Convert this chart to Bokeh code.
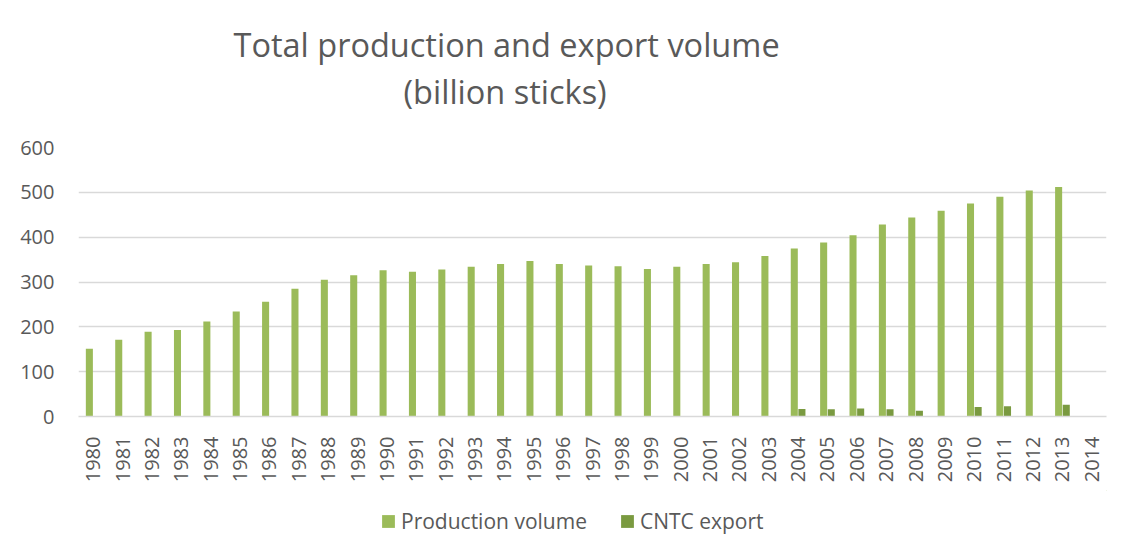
import math
from bokeh.plotting import figure
from bokeh.layouts import column
from bokeh.models import ColumnDataSource, FactorRange, Legend, LegendItem, FixedTicker, Title
from bokeh.transform import dodge
from bokeh.embed import file_html
from bokeh.resources import INLINE

years = [str(y) for y in range(1980, 2015)]
production = [151, 171, 189, 193, 212, 234, 256, 285, 305, 315,
              326, 323, 328, 334, 340, 347, 340, 337, 335, 329,
              334, 340, 344, 358, 375, 388, 404, 428, 444, 459,
              475, 490, 504, 512, None]
export = [None] * 24 + [17, 16, 18, 16, 13, None, 21, 23, None, 26, None]
y_ticks = [0, 100, 200, 300, 400, 500, 600]

title_line1 = "Total production and export volume"
title_line2 = "(billion sticks)"
series_names = ["Production volume", "CNTC export"]
colors = ["#9BBB59", "#7A9A40"]

def clean(v):
    return [float("nan") if x is None else x for x in v]

src = ColumnDataSource(dict(year=years, prod=clean(production), exp=clean(export)))

FONT = "Open Sans"
GREY = "#595959"

p = figure(width=1118, height=490, x_range=FactorRange(*years, range_padding=0),
           y_range=(0, 600), output_backend="svg", toolbar_location=None,
           min_border_left=78, min_border_right=12, min_border_top=147, min_border_bottom=74)
p.outline_line_color = None
p.background_fill_color = "white"
p.border_fill_color = "white"

r1 = p.vbar(x=dodge("year", -0.13, range=p.x_range), top="prod", width=0.24, source=src,
            fill_color=colors[0], line_color=None)
r2 = p.vbar(x=dodge("year", 0.13, range=p.x_range), top="exp", width=0.24, source=src,
            fill_color=colors[1], line_color=None)

p.xgrid.grid_line_color = None
p.ygrid.grid_line_color = "#d9d9d9"
p.ygrid.grid_line_width = 1.3
p.yaxis.ticker = FixedTicker(ticks=y_ticks)
p.yaxis.axis_line_color = None
p.yaxis.major_tick_line_color = None
p.yaxis.minor_tick_line_color = None
p.yaxis.major_label_text_font = FONT
p.yaxis.major_label_text_font_size = "20px"
p.yaxis.major_label_text_color = GREY
p.yaxis.major_label_standoff = 18

p.xaxis.axis_line_color = "#d9d9d9"
p.xaxis.axis_line_width = 1.5
p.xaxis.major_tick_line_color = None
p.xaxis.minor_tick_line_color = None
p.xaxis.major_label_orientation = math.pi / 2
p.xaxis.major_label_text_font = FONT
p.xaxis.major_label_text_font_size = "20px"
p.xaxis.major_label_text_color = GREY
p.xaxis.major_label_standoff = 14

# spacer above the frame, then the two title lines
p.add_layout(Title(text=" ", text_font_size="2px", standoff=30), "above")
p.add_layout(Title(text=title_line2, align="left", offset=325, standoff=0,
                   text_font=FONT, text_font_size="32.5px", text_font_style="normal",
                   text_color=GREY), "above")
p.add_layout(Title(text=title_line1, align="left", offset=155, standoff=0,
                   text_font=FONT, text_font_size="32.5px", text_font_style="normal",
                   text_color=GREY), "above")

# legend strip below the chart (its key glyphs sit outside the visible range)
lg = figure(width=1118, height=52, x_range=(0, 1), y_range=(0, 1), output_backend="svg",
            toolbar_location=None, x_axis_type=None, y_axis_type=None,
            min_border=0, min_border_left=0, min_border_right=0, min_border_top=0, min_border_bottom=0)
lg.outline_line_color = None
lg.xgrid.visible = False
lg.ygrid.visible = False
lr1 = lg.vbar(x=[5], top=[6], bottom=[5], width=0.1, fill_color=colors[0], line_color=None)
lr2 = lg.vbar(x=[5], top=[6], bottom=[5], width=0.1, fill_color=colors[1], line_color=None)
legend = Legend(items=[LegendItem(label=series_names[0], renderers=[lr1]),
                       LegendItem(label=series_names[1], renderers=[lr2])],
                orientation="horizontal", location=(302, 7),
                glyph_width=16, glyph_height=16, label_standoff=5, spacing=32,
                padding=0, margin=0, border_line_color=None, background_fill_alpha=0,
                label_text_font=FONT, label_text_font_size="21px", label_text_color=GREY)
lg.add_layout(legend, "center")

layout = column(p, lg, spacing=0)
open("out.html", "w").write(file_html(layout, INLINE))
